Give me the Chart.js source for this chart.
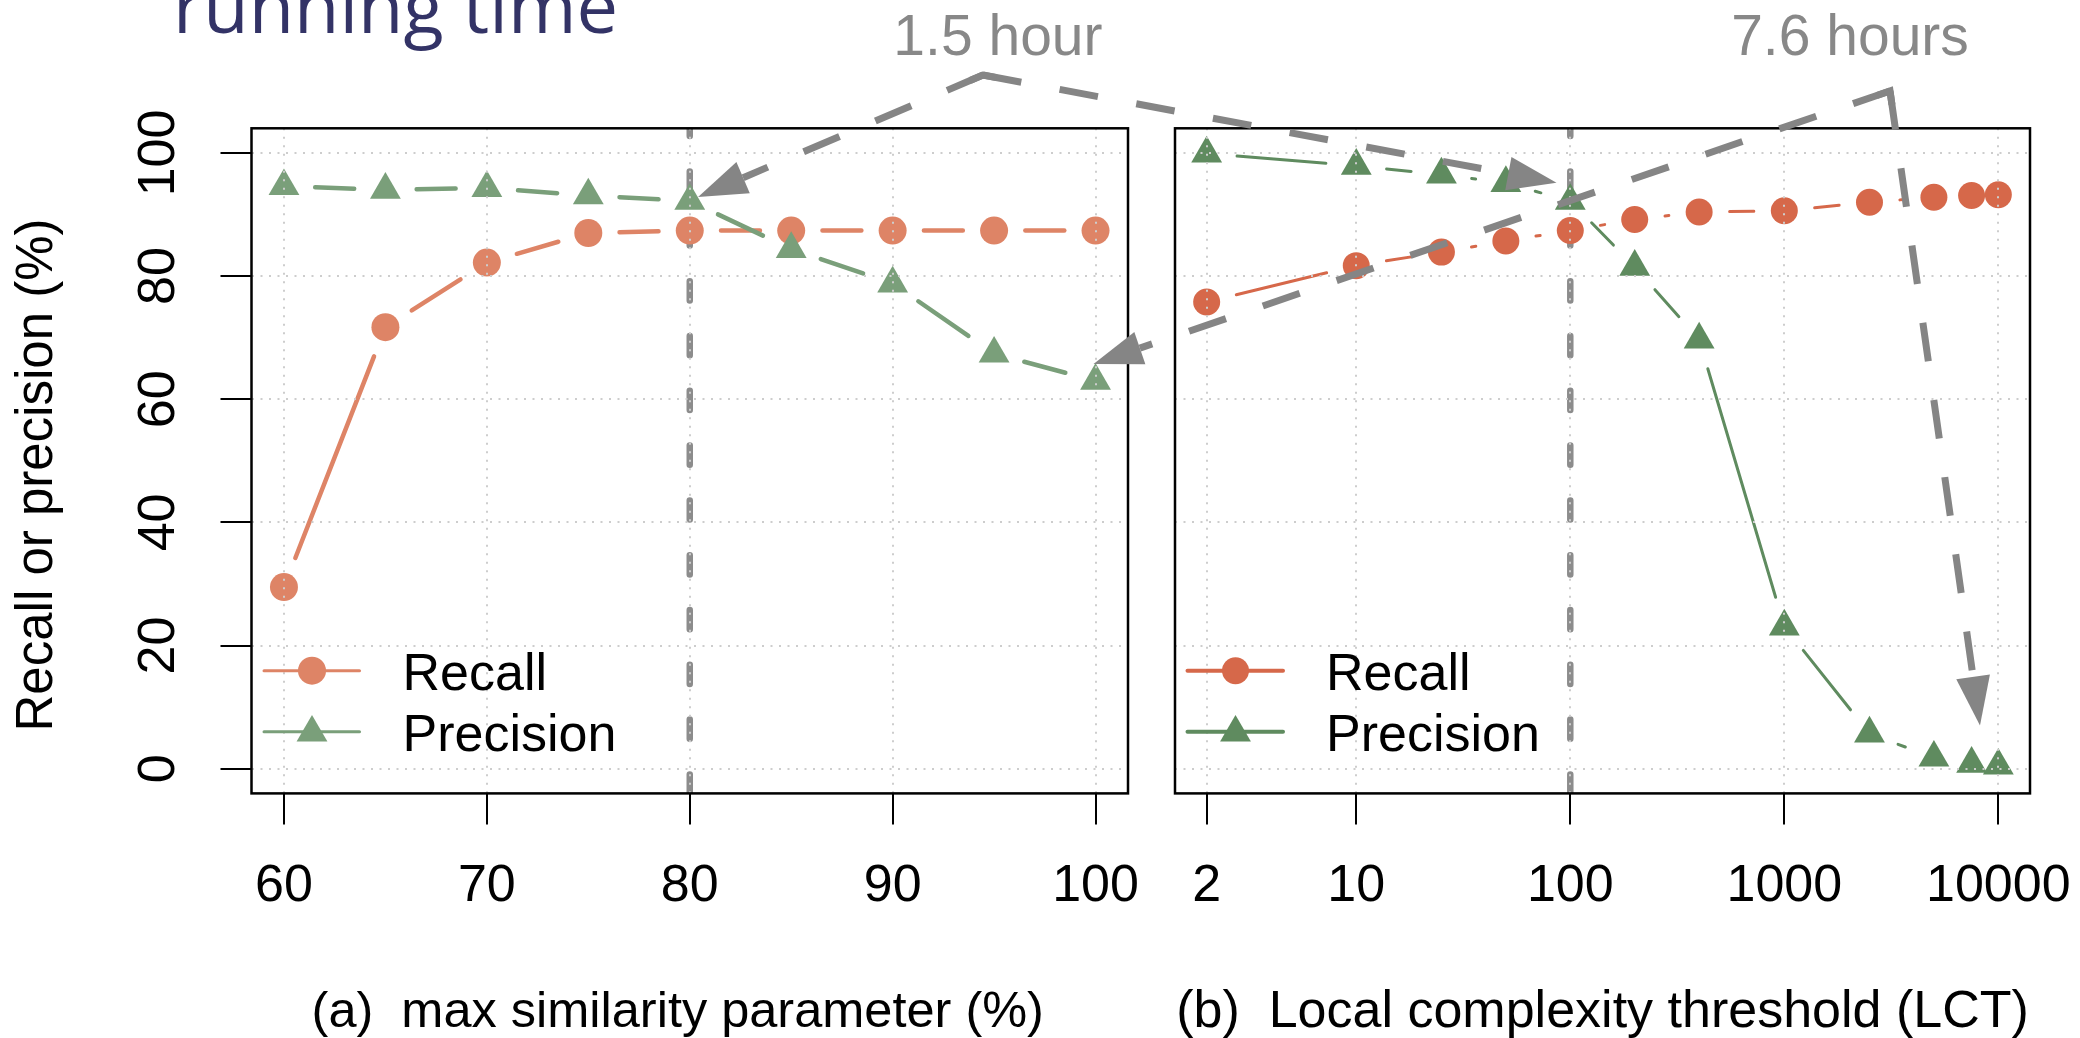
<!DOCTYPE html>
<html>
<head>
<meta charset="utf-8">
<script src="https://cdn.jsdelivr.net/npm/chart.js@4.4.1/dist/chart.umd.min.js"></script>
<style>
html,body{margin:0;padding:0;background:#fff;}
#wrap{position:relative;width:2080px;height:1038px;overflow:hidden;background:#fff;}
canvas{position:absolute;left:0;top:0;}
</style>
</head>
<body>
<div id="wrap">
<canvas id="ca" width="2080" height="1038"></canvas>
<canvas id="cb" width="2080" height="1038"></canvas>
</div>
<script>
// ---------------- data ----------------
const simParam    = [60, 65, 70, 75, 80, 85, 90, 95, 100];
const recallA     = [29.5, 71.7, 82.2, 87.0, 87.4, 87.4, 87.4, 87.4, 87.4];
const precisionA  = [94.6, 94.0, 94.3, 93.1, 92.2, 84.4, 78.8, 67.4, 63.0];
const lct         = [2, 10, 25, 50, 100, 200, 400, 1000, 2500, 5000, 7500, 10000];
const recallB     = [75.8, 81.7, 83.9, 85.7, 87.4, 89.2, 90.4, 90.6, 92.0, 92.8, 93.1, 93.2];
const precisionB  = [99.9, 97.9, 96.5, 95.1, 92.2, 81.5, 69.7, 23.1, 5.7, 1.8, 0.8, 0.5];
const ticksXA     = [60, 70, 80, 90, 100];
const ticksXB     = [2, 10, 100, 1000, 10000];
const ticksY      = [0, 20, 40, 60, 80, 100];
const defaultSim  = 80;
const defaultLCT  = 100;
const seriesNames = ['Recall', 'Precision'];
const xTitleA = '(a)  max similarity parameter (%)';
const xTitleB = '(b)  Local complexity threshold (LCT)';
const yTitle  = 'Recall or precision (%)';
const topTitle = 'running time';
// annotation callouts (data coordinates of a panel)
const callouts = [
  { text: '1.5 hour',  label: {panel: 'a', x: 95.19, y: 115.9},
    apex: {panel: 'a', x: 94.45, y: 112.65},
    targets: [{panel: 'a', x: 80.41, y: 92.85}, {panel: 'b', x: 86.2, y: 95.17}] },
  { text: '7.6 hours', label: {panel: 'b', x: 2027, y: 115.9},
    apex: {panel: 'b', x: 3118, y: 110.06},
    targets: [{panel: 'a', x: 99.9, y: 65.73}, {panel: 'b', x: 8209, y: 7.03}] }
];

// ---------------- styles / layout ----------------
const FONT = '"Liberation Sans", Arial, Helvetica, sans-serif';
Chart.defaults.font.family = FONT;
const W = 2080, H = 1038;
const TOP = 128.3, BOTTOM = 793.4;
const A_LEFT = 251.5, A_RIGHT = 1128, B_LEFT = 1175, B_RIGHT = 2030;
const TICK_FS = 52, LEG_FS = 52;
const COL = {
  recA: '#DE8466', preA: '#7A9F7A',
  recB: '#D6684A', preB: '#5F8B5F',
  grid: '#cdcdcd', ref: '#8c8c8c', arrow: '#858585', note: '#888888', title: '#333366'
};

function rExtend(lo, hi) { const d = (hi - lo) * 0.04; return [lo - d, hi + d]; }
const [xAMin, xAMax] = rExtend(Math.min(...simParam), Math.max(...simParam));
const [yMin, yMax] = rExtend(0, 100);
const lb = rExtend(Math.log10(Math.min(...lct)), Math.log10(Math.max(...lct)));
const xBMin = Math.pow(10, lb[0]), xBMax = Math.pow(10, lb[1]);

// R type="b": solid segments with a gap around each point
function rGapSegment(gap, color) {
  const len = c => Math.hypot(c.p1.x - c.p0.x, c.p1.y - c.p0.y);
  return {
    borderDash: c => { const L = len(c); return L > 2 * gap ? [L - 2 * gap, 2 * gap] : [1, L + 10]; },
    borderDashOffset: c => { const L = len(c); return L > 2 * gap ? L - gap : 0; },
    borderColor: c => (len(c) > 2 * gap ? color : 'rgba(0,0,0,0)')
  };
}

function makeDataset(label, xs, ys, color, lw, pointStyle, radius, order) {
  return {
    label, data: xs.map((x, i) => ({x, y: ys[i]})),
    borderColor: color, backgroundColor: color, borderWidth: lw,
    borderCapStyle: 'round', borderJoinStyle: 'round',
    pointStyle, pointRadius: radius, pointHoverRadius: radius,
    pointBackgroundColor: color, pointBorderWidth: 0, pointHoverBorderWidth: 0,
    tension: 0, fill: false, order,
    segment: rGapSegment(29 + lw / 2, color)
  };
}

function gridOpts(drawTicks) {
  return { color: COL.grid, lineWidth: 2, drawTicks, tickLength: 31, tickColor: '#000',
           tickWidth: 2, tickBorderDash: [], z: 1 };
}
const borderOpts = { display: false, dash: [2, 6.5] };

function drawMarker(ctx, style, x, y, r, color) {
  ctx.fillStyle = color;
  ctx.beginPath();
  if (style === 'circle') {
    ctx.arc(x, y, r, 0, Math.PI * 2);
  } else {
    ctx.moveTo(x, y - r);
    ctx.lineTo(x + r * Math.sin(2 * Math.PI / 3), y - r * Math.cos(2 * Math.PI / 3));
    ctx.lineTo(x + r * Math.sin(4 * Math.PI / 3), y - r * Math.cos(4 * Math.PI / 3));
    ctx.closePath();
  }
  ctx.fill();
}

function panelPlugin(cfg) {
  return {
    id: 'panel' + cfg.name,
    beforeDatasetsDraw(chart) {
      const {ctx, chartArea: a} = chart;
      const px = chart.scales.x.getPixelForValue(cfg.refValue);
      ctx.save();
      ctx.beginPath(); ctx.rect(a.left, a.top, a.right - a.left, a.bottom - a.top); ctx.clip();
      ctx.strokeStyle = COL.ref; ctx.lineWidth = 6.5; ctx.lineCap = 'round';
      ctx.setLineDash([19.2, 35.6]);
      ctx.beginPath(); ctx.moveTo(px, a.top - 11.5); ctx.lineTo(px, a.bottom + 40); ctx.stroke();
      ctx.restore();
    },
    afterDraw(chart) {
      const {ctx, chartArea: a} = chart;
      ctx.save();
      // box
      ctx.strokeStyle = '#000'; ctx.lineWidth = 2.5; ctx.setLineDash([]);
      ctx.strokeRect(a.left, a.top, a.right - a.left, a.bottom - a.top);
      // legend
      const ds = chart.data.datasets;
      ctx.font = LEG_FS + 'px ' + FONT; ctx.textAlign = 'left'; ctx.textBaseline = 'alphabetic';
      ds.forEach((d, i) => {
        const y = a.bottom - 122.7 + i * 61;
        ctx.strokeStyle = d.borderColor; ctx.lineWidth = cfg.legendLw; ctx.lineCap = 'round';
        ctx.beginPath(); ctx.moveTo(a.left + 12.5, y); ctx.lineTo(a.left + 108, y); ctx.stroke();
        drawMarker(ctx, d.pointStyle, a.left + 60.5, d.pointStyle === 'circle' ? y : y + 1, d.pointRadius, d.borderColor);
        ctx.fillStyle = '#000';
        ctx.fillText(d.label, a.left + 151, y + 19.5);
      });
      // x title
      ctx.font = cfg.xTitleFs + 'px ' + FONT;
      ctx.textAlign = 'center';
      ctx.fillText(cfg.xTitle, (a.left + a.right) / 2 + cfg.xTitleShift, 1027);
      if (cfg.drawY) {
        ctx.font = '51px ' + FONT;
        ctx.save();
        ctx.translate(52, 475); ctx.rotate(-Math.PI / 2);
        ctx.textAlign = 'center'; ctx.fillText(yTitle, 0, 0);
        ctx.restore();
        ctx.font = '74px "Open Sans", "Noto Sans", sans-serif';
        ctx.fillStyle = COL.title; ctx.textAlign = 'left';
        ctx.fillText(topTitle, 173, 33);
      }
      ctx.restore();
      if (cfg.after) cfg.after(chart);
    }
  };
}

function scalesFor(panel) {
  const isA = panel === 'a';
  return {
    x: {
      type: isA ? 'linear' : 'logarithmic',
      min: isA ? xAMin : xBMin, max: isA ? xAMax : xBMax,
      afterBuildTicks: s => { s.ticks = (isA ? ticksXA : ticksXB).map(v => ({value: v})); },
      afterFit: s => { s.height = H - BOTTOM; s.paddingLeft = 0; s.paddingRight = 0; },
      ticks: { font: {size: TICK_FS, lineHeight: 1}, color: '#000', padding: 36, autoSkip: false,
               maxRotation: 0, minRotation: 0, callback: v => String(v) },
      grid: gridOpts(true), border: borderOpts
    },
    y: {
      type: 'linear', min: yMin, max: yMax,
      afterBuildTicks: s => { s.ticks = ticksY.map(v => ({value: v})); },
      afterFit: s => { s.width = isA ? A_LEFT : 0; s.paddingTop = 0; s.paddingBottom = 0; },
      ticks: { display: isA, font: {size: TICK_FS, lineHeight: 1}, color: '#000', padding: 17,
               minRotation: 90, maxRotation: 90, crossAlign: 'center', autoSkip: false,
               callback: v => String(v) },
      grid: gridOpts(isA), border: borderOpts
    }
  };
}

function baseOptions(panel, padding) {
  return {
    responsive: false, animation: false, events: [],
    layout: { padding, autoPadding: false },
    plugins: { legend: {display: false}, tooltip: {enabled: false} },
    scales: scalesFor(panel)
  };
}

const chartA = new Chart(document.getElementById('ca'), {
  type: 'line',
  data: { datasets: [
    makeDataset(seriesNames[0], simParam, recallA, COL.recA, 4.5, 'circle', 14, 2),
    makeDataset(seriesNames[1], simParam, precisionA, COL.preA, 4.5, 'triangle', 17.8, 1)
  ]},
  options: baseOptions('a', {left: 0, top: TOP, right: W - A_RIGHT, bottom: 0}),
  plugins: [panelPlugin({name: 'A', refValue: defaultSim, legendLw: 3, xTitle: xTitleA, xTitleFs: 50.5, xTitleShift: -12, drawY: true})]
});

function drawCallouts(chartB) {
  const ctx = chartB.ctx;
  const P = p => {
    const c = p.panel === 'a' ? chartA : chartB;
    return [c.scales.x.getPixelForValue(p.x), c.scales.y.getPixelForValue(p.y)];
  };
  ctx.save();
  callouts.forEach(co => {
    const [ax, ay] = P(co.apex);
    const units = [];
    co.targets.forEach(t => {
      const [tx, ty] = P(t);
      const dx = tx - ax, dy = ty - ay, L = Math.hypot(dx, dy), ux = dx / L, uy = dy / L;
      units.push([ux, uy]);
      const headLen = 49, headHalf = 17;
      const bx = tx - ux * headLen, by = ty - uy * headLen;
      ctx.strokeStyle = COL.arrow; ctx.lineWidth = 7; ctx.lineCap = 'butt';
      ctx.setLineDash([39, 39]);
      ctx.beginPath(); ctx.moveTo(ax, ay); ctx.lineTo(bx, by); ctx.stroke();
      ctx.setLineDash([]);
      ctx.fillStyle = COL.arrow;
      ctx.beginPath(); ctx.moveTo(tx, ty);
      ctx.lineTo(bx - uy * headHalf, by + ux * headHalf);
      ctx.lineTo(bx + uy * headHalf, by - ux * headHalf);
      ctx.closePath(); ctx.fill();
    });
    // joint at apex
    ctx.setLineDash([]); ctx.lineJoin = 'miter'; ctx.lineCap = 'butt'; ctx.lineWidth = 7;
    ctx.beginPath();
    ctx.moveTo(ax + units[0][0] * 14, ay + units[0][1] * 14);
    ctx.lineTo(ax, ay);
    ctx.lineTo(ax + units[1][0] * 14, ay + units[1][1] * 14);
    ctx.stroke();
    // label
    const [lx, ly] = P(co.label);
    ctx.font = '57px ' + FONT; ctx.fillStyle = COL.note; ctx.textAlign = 'center'; ctx.textBaseline = 'alphabetic';
    ctx.fillText(co.text, lx, ly);
  });
  ctx.restore();
}

const chartB = new Chart(document.getElementById('cb'), {
  type: 'line',
  data: { datasets: [
    makeDataset(seriesNames[0], lct, recallB, COL.recB, 3, 'circle', 13.5, 2),
    makeDataset(seriesNames[1], lct, precisionB, COL.preB, 3, 'triangle', 17.8, 1)
  ]},
  options: baseOptions('b', {left: B_LEFT, top: TOP, right: W - B_RIGHT, bottom: 0}),
  plugins: [panelPlugin({name: 'B', refValue: defaultLCT, legendLw: 4, xTitle: xTitleB, xTitleFs: 52, xTitleShift: 0, drawY: false, after: drawCallouts})]
});
</script>
</body>
</html>
